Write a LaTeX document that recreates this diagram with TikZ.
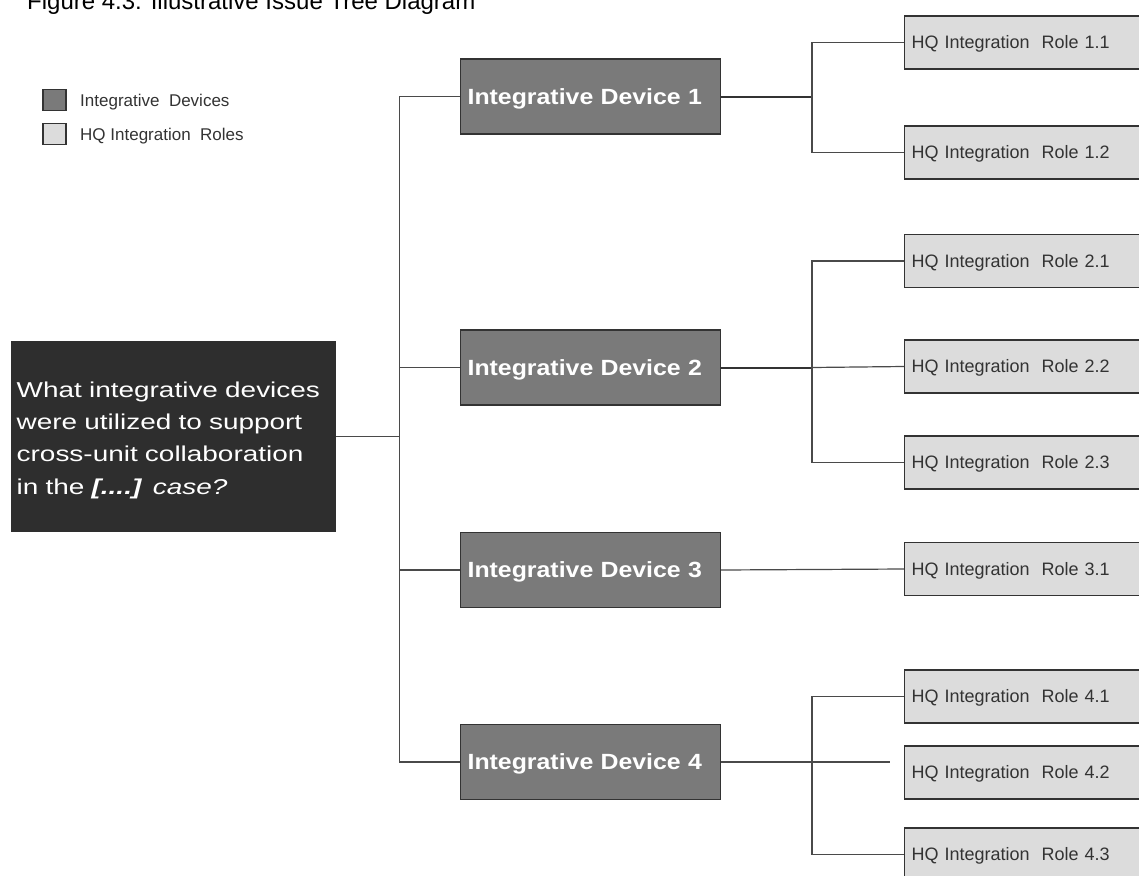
\documentclass[tikz,border=0pt]{standalone}
\usepackage{fontspec}
\setmainfont{Liberation Sans}
\newfontfamily\rootfont{Liberation Sans}[FakeStretch=1.3]
\newfontfamily\devfont{Liberation Sans}[FakeStretch=1.13]

\definecolor{devfill}{HTML}{7A7A7A}
\definecolor{rolefill}{HTML}{DCDCDC}
\definecolor{rootfill}{HTML}{2E2E2E}
\definecolor{boxline}{HTML}{333333}
\definecolor{linecol}{HTML}{4A4A4A}
\definecolor{labeltext}{HTML}{333333}

\tikzset{
  devbox/.style={draw=boxline, fill=devfill, line width=1.2pt, anchor=west,
    minimum width=260pt, minimum height=75pt, inner xsep=7pt, inner ysep=0pt,
    text width=246pt, align=left, text height=15.6pt, text depth=0pt,
    text=white, font=\devfont\bfseries\fontsize{22}{26}\selectfont},
  rolebox/.style={draw=boxline, fill=rolefill, line width=1.2pt, anchor=west,
    minimum width=250pt, minimum height=53pt, inner xsep=7pt, inner ysep=0pt,
    text width=236pt, align=left, text height=12.9pt, text depth=0pt,
    text=labeltext, font=\fontsize{18}{22}\selectfont},
  rootbox/.style={fill=rootfill, anchor=north west, minimum width=325.5pt,
    inner xsep=6pt, inner ysep=0pt, text width=313.5pt, align=left,
    text height=56pt, text depth=135pt, text=white,
    font=\rootfont\fontsize{21.5}{32.3}\selectfont},
  legsq/.style={draw=boxline, line width=1.2pt, minimum width=23pt,
    minimum height=21pt, inner sep=0pt},
  legtext/.style={anchor=west, inner sep=0pt, text height=12.2pt, text depth=0pt,
    text=labeltext, font=\fontsize{17}{20}\selectfont},
  conn/.style={draw=linecol, line width=1.2pt},
  thickconn/.style={draw=boxline, line width=2pt}
}

\begin{document}
\begin{tikzpicture}[x=1pt,y=-1pt]
  \useasboundingbox (0,0) rectangle (1139,875);
  \clip (0,0) rectangle (1139,875);
  \fill[white] (0,0) rectangle (1139,875);

  % title
  \node[anchor=base west, inner sep=0pt, font=\fontsize{24}{28}\selectfont]
    (title) at (27,10) {Figure 4.3: Illustrative Issue Tree Diagram};

  % legend
  \node[legsq, fill=devfill] (legdev) at (54.5,100) {};
  \node[legsq, fill=rolefill] (legrole) at (54.5,134) {};
  \node[legtext] (legdevtxt) at (80,100) {Integrative\ \ Devices};
  \node[legtext] (legroletxt) at (80,134) {HQ Integration\ \ Roles};

  % root question
  \node[rootbox] (root) at (10.5,341) {What integrative devices\\
    were utilized to support\\
    cross-unit collaboration\\
    in the \textit{\textbf{[....]}} \textit{case?}};

  % integrative devices
  \node[devbox] (d1) at (460,96.5) {Integrative Device 1};
  \node[devbox] (d2) at (460,367.5) {Integrative Device 2};
  \node[devbox] (d3) at (460,570) {Integrative Device 3};
  \node[devbox] (d4) at (460,762) {Integrative Device 4};

  % HQ integration roles
  \node[rolebox] (r11) at (904,42.5) {HQ Integration\ \ Role 1.1};
  \node[rolebox] (r12) at (904,152.5) {HQ Integration\ \ Role 1.2};
  \node[rolebox] (r21) at (904,261) {HQ Integration\ \ Role 2.1};
  \node[rolebox] (r22) at (904,366.5) {HQ Integration\ \ Role 2.2};
  \node[rolebox] (r23) at (904,462.5) {HQ Integration\ \ Role 2.3};
  \node[rolebox] (r31) at (904,569) {HQ Integration\ \ Role 3.1};
  \node[rolebox] (r41) at (904,696.5) {HQ Integration\ \ Role 4.1};
  \node[rolebox] (r42) at (904,772.5) {HQ Integration\ \ Role 4.2};
  \node[rolebox] (r43) at (904,854.5) {HQ Integration\ \ Role 4.3};

  % branch columns
  \coordinate (trunk) at (399.5,0);
  \coordinate (br) at (812,0);
  \coordinate (d4end) at (890,763);

  % root to devices
  \draw[conn] (root.east) -- (root.east -| trunk);
  \draw[conn] (d1.west) -- (d1.west -| trunk) -- (d4.west -| trunk) -- (d4.west);
  \draw[conn] (d2.west) -- (d2.west -| trunk);
  \draw[conn] (d3.west) -- (d3.west -| trunk);

  % devices to roles
  \draw[thickconn] (d1.east) -- (d1.east -| br);
  \draw[conn] (r11.west) -- (r11.west -| br) -- (r12.west -| br) -- (r12.west);

  \draw[thickconn] (d2.east) -- (d2.east -| br);
  \draw[conn] (d2.east -| br) -- (r22.west);
  \draw[conn] (r21.west) -- (r21.west -| br) -- (r23.west -| br) -- (r23.west);

  \draw[conn] (d3.east) -- (r31.west);

  \draw[conn] (d4.east) -- (d4.east -| d4end);
  \draw[conn] (r41.west) -- (r41.west -| br) -- (r43.west -| br) -- (r43.west);
\end{tikzpicture}
\end{document}
